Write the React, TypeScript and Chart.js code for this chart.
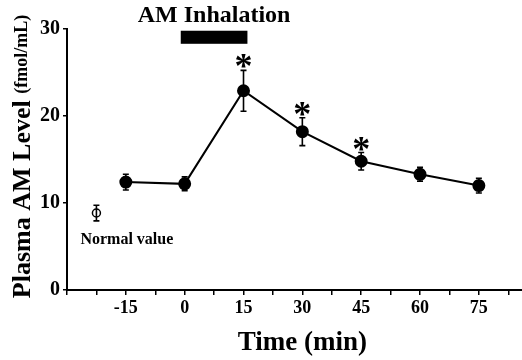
import React, { useEffect, useRef } from "react";
import { Chart, registerables } from "chart.js";

Chart.register(...registerables);

// ---- data ----
const times = [-15, 0, 15, 30, 45, 60, 75];
const amLevel = [12.4, 12.2, 22.9, 18.2, 14.8, 13.3, 12.0];
const amSem = [0.9, 0.8, 2.35, 1.6, 1.0, 0.8, 0.85];
const significant = [false, false, true, true, true, false, false];

const normalTime = [-22.5];
const normalLevel = [8.85];
const normalSem = [0.9];

const xTickLabels = [-15, 0, 15, 30, 45, 60, 75];
const xMinorTicks = [-30, -22.5, -15, -7.5, 0, 7.5, 15, 22.5, 30, 37.5, 45, 52.5, 60, 67.5, 75, 82.5];
const yTickLabels = [0, 10, 20, 30];

const inhalationTime = [-1, 16];
const inhalationLevel = [28.3, 29.8];

const xTitle = "Time (min)";
const yTitleMain = "Plasma AM Level";
const yTitleUnit = "(fmol/mL)";

const FONT = "'Liberation Serif', 'Times New Roman', serif";

const overlayPlugin = {
  id: "overlay",
  afterDatasetsDraw(chart: any) {
    const ctx = chart.ctx;
    const xs = chart.scales.x;
    const ys = chart.scales.y;
    const area = chart.chartArea;
    ctx.save();
    ctx.strokeStyle = "#000";
    ctx.fillStyle = "#000";
    ctx.lineWidth = 1.6;
    const drawErr = (t: number, v: number, e: number) => {
      const px = xs.getPixelForValue(t);
      const top = ys.getPixelForValue(v + e);
      const bot = ys.getPixelForValue(v - e);
      ctx.beginPath();
      ctx.moveTo(px, top);
      ctx.lineTo(px, bot);
      ctx.moveTo(px - 3, top);
      ctx.lineTo(px + 3, top);
      ctx.moveTo(px - 3, bot);
      ctx.lineTo(px + 3, bot);
      ctx.stroke();
      return top;
    };
    times.forEach((t, i) => {
      const top = drawErr(t, amLevel[i], amSem[i]);
      if (significant[i]) {
        ctx.font = `bold 36px ${FONT}`;
        ctx.textAlign = "center";
        ctx.textBaseline = "alphabetic";
        ctx.fillText("*", xs.getPixelForValue(t), top - 11 + 19);
      }
    });
    normalTime.forEach((t, i) => {
      drawErr(t, normalLevel[i], normalSem[i]);
      const px = xs.getPixelForValue(t);
      const py = ys.getPixelForValue(normalLevel[i]);
      ctx.font = `bold 16px ${FONT}`;
      ctx.textAlign = "left";
      ctx.textBaseline = "middle";
      ctx.fillText("Normal value", px - 16, py + 27);
    });
    // inhalation bar
    const x0 = xs.getPixelForValue(inhalationTime[0]);
    const x1 = xs.getPixelForValue(inhalationTime[1]);
    const y0 = ys.getPixelForValue(inhalationLevel[1]);
    const y1 = ys.getPixelForValue(inhalationLevel[0]);
    ctx.fillRect(x0, y0, x1 - x0, y1 - y0);
    ctx.font = `bold 24px ${FONT}`;
    ctx.textAlign = "center";
    ctx.textBaseline = "middle";
    ctx.fillText("AM Inhalation", (x0 + x1) / 2, y0 - 15);

    // x title
    ctx.font = `bold 27px ${FONT}`;
    ctx.textAlign = "center";
    ctx.textBaseline = "middle";
    ctx.fillText(xTitle, xs.getPixelForValue(30), 343);

    // y title with two font sizes
    const mainFont = `bold 26px ${FONT}`;
    const unitFont = `bold 18px ${FONT}`;
    ctx.font = mainFont;
    const wMain = ctx.measureText(yTitleMain + " ").width;
    ctx.font = unitFont;
    const wUnit = ctx.measureText(yTitleUnit).width;
    const total = wMain + wUnit;
    const cy = (area.top + area.bottom) / 2 - 3;
    ctx.translate(23, cy);
    ctx.rotate(-Math.PI / 2);
    ctx.textAlign = "left";
    ctx.textBaseline = "middle";
    ctx.font = mainFont;
    ctx.fillText(yTitleMain + " ", -total / 2, 0);
    ctx.font = unitFont;
    ctx.fillText(yTitleUnit, -total / 2 + wMain, -1);
    ctx.restore();
  },
};

export default function App() {
  const ref = useRef<HTMLCanvasElement | null>(null);
  useEffect(() => {
    if (!ref.current) return;
    const chart = new Chart(ref.current, {
      type: "scatter",
      data: {
        datasets: [
          {
            data: times.map((t, i) => ({ x: t, y: amLevel[i] })),
            showLine: true,
            borderColor: "#000",
            borderWidth: 2,
            backgroundColor: "#000",
            pointRadius: 5.5,
            pointBackgroundColor: "#000",
            pointBorderColor: "#000",
            clip: false,
          } as any,
          {
            data: normalTime.map((t, i) => ({ x: t, y: normalLevel[i] })),
            showLine: false,
            pointRadius: 4,
            pointBackgroundColor: "#fff",
            pointBorderColor: "#000",
            pointBorderWidth: 1.5,
            clip: false,
          } as any,
        ],
      },
      plugins: [overlayPlugin],
      options: {
        animation: false,
        responsive: false,
        layout: { autoPadding: false, padding: { top: 29, right: 0, left: 0, bottom: 0 } },
        plugins: { legend: { display: false }, tooltip: { enabled: false } },
        scales: {
          x: {
            type: "linear",
            min: -30,
            max: 86,
            afterBuildTicks: (s: any) => {
              s.ticks = xMinorTicks.map((v) => ({ value: v }));
            },
            afterFit: (s: any) => {
              s.height = 70;
              s.paddingLeft = 0;
              s.paddingRight = 0;
            },
            border: { color: "#000", width: 2 },
            grid: { drawOnChartArea: false, color: "#000", tickLength: 5, lineWidth: 1.5 },
            ticks: {
              autoSkip: false,
              maxRotation: 0,
              color: "#000",
              padding: 3,
              font: { family: FONT, size: 18, weight: "bold" },
              callback: (v: any) => (xTickLabels.includes(Number(v)) ? String(v) : ""),
            },
            title: { display: false },
          },
          y: {
            type: "linear",
            min: 0,
            max: 30,
            afterBuildTicks: (s: any) => {
              s.ticks = yTickLabels.map((v) => ({ value: v }));
            },
            afterFit: (s: any) => {
              s.width = 67;
            },
            border: { color: "#000", width: 2 },
            grid: { drawOnChartArea: false, color: "#000", tickLength: 4, lineWidth: 1.5 },
            ticks: {
              color: "#000",
              padding: 3,
              font: { family: FONT, size: 20, weight: "bold" },
            },
            title: { display: false },
          },
        },
      },
    } as any);
    return () => chart.destroy();
  }, []);
  return (
    <div style={{ position: "absolute", left: 0, top: 0, width: 522, height: 360, background: "#fff" }}>
      <canvas ref={ref} width={522} height={360} style={{ display: "block" }} />
    </div>
  );
}
